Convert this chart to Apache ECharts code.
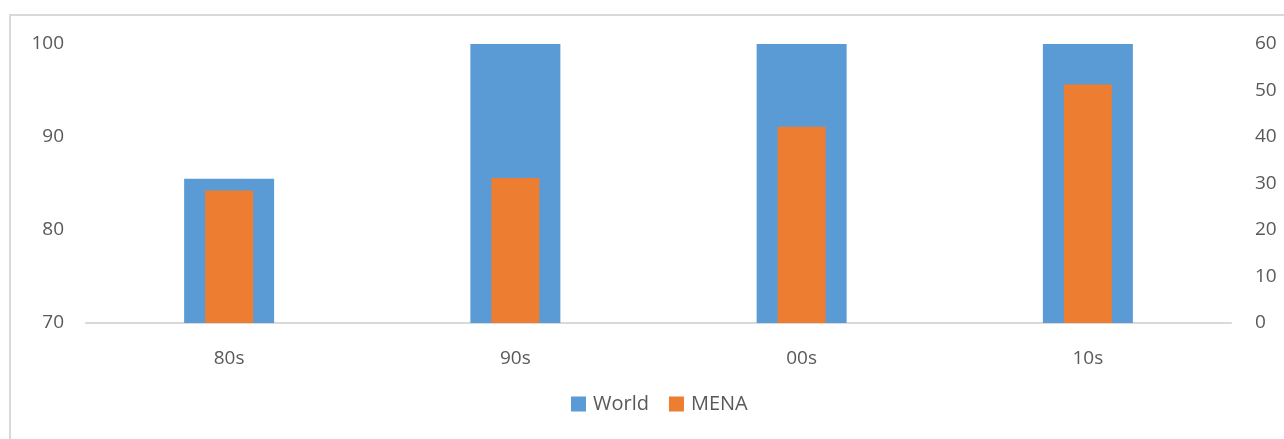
<!DOCTYPE html>
<html>
<head>
<meta charset="utf-8">
<script src="https://cdn.jsdelivr.net/npm/echarts@6/dist/echarts.min.js"></script>
<style>
html,body{margin:0;padding:0;background:#fff;}
#chart{width:1284px;height:439px;}
</style>
</head>
<body>
<div id="chart"></div>
<script>
const categories = ['80s', '90s', '00s', '10s'];
const worldValues = [85.5, 100, 100, 100];
const menaValues = [28.5, 31.2, 42.2, 51.3];
const leftTicks = [70, 80, 90, 100];
const rightTicks = [0, 10, 20, 30, 40, 50, 60];

const chart = echarts.init(document.getElementById('chart'));
const font = '"Open Sans", "Liberation Sans", sans-serif';
const labelColor = '#595959';
chart.setOption({
  animation: false,
  backgroundColor: '#fff',
  textStyle: { fontFamily: font },
  graphic: [
    { type: 'polyline', shape: { points: [[10, 439], [10, 15], [1284, 15]] },
      style: { stroke: '#d9d9d9', lineWidth: 2, fill: null }, silent: true }
  ],
  grid: { left: 86, right: 53, top: 44, bottom: 116 },
  legend: {
    data: ['World', 'MENA'],
    bottom: 20, left: 566,
    itemWidth: 15, itemHeight: 15, itemGap: 20,
    icon: 'rect',
    textStyle: { fontSize: 20, color: labelColor, fontFamily: font, padding: [0, 0, 0, 2] }
  },
  xAxis: [
    { type: 'category', data: categories,
      axisLine: { lineStyle: { color: '#d9d9d9', width: 2 } },
      axisTick: { show: false },
      axisLabel: { fontSize: 19, color: labelColor, margin: 26, fontFamily: font } },
    { type: 'category', data: categories, show: false }
  ],
  yAxis: [
    { type: 'value', min: leftTicks[0], max: leftTicks[leftTicks.length - 1], interval: 10,
      splitLine: { show: false }, axisLine: { show: false }, axisTick: { show: false },
      axisLabel: { fontSize: 19, color: labelColor, margin: 22, fontFamily: font } },
    { type: 'value', min: rightTicks[0], max: rightTicks[rightTicks.length - 1], interval: 10,
      splitLine: { show: false }, axisLine: { show: false }, axisTick: { show: false },
      axisLabel: { fontSize: 19, color: labelColor, margin: 24, fontFamily: font } }
  ],
  series: [
    { name: 'World', type: 'bar', xAxisIndex: 0, yAxisIndex: 0, data: worldValues,
      barWidth: 90, itemStyle: { color: '#5b9bd5' } },
    { name: 'MENA', type: 'bar', xAxisIndex: 1, yAxisIndex: 1, data: menaValues,
      barWidth: 48, itemStyle: { color: '#ed7d31' } }
  ]
});
</script>
</body>
</html>
